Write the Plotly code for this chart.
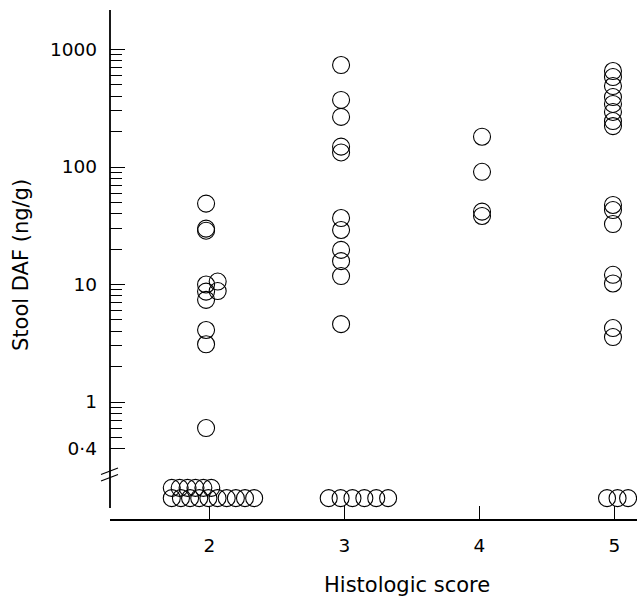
import plotly.graph_objects as go

# ---------------- data ----------------
SCORES = [2, 3, 4, 5]
X_TICK_LABELS = ["2", "3", "4", "5"]

DAF_SCORE2 = [48.8, 29.9, 28.7, 10.0, 8.7, 7.4, 10.6, 8.8, 4.1, 3.1, 0.6]
DAF_SCORE3 = [738, 372, 267, 149, 133, 36.8, 29.1, 19.7, 15.8, 11.8, 4.6]
DAF_SCORE4 = [181, 91, 41.7, 38.3]
DAF_SCORE5 = [656, 583, 489, 394, 344, 294, 246, 223,
              47.5, 43.0, 32.7, 12.1, 10.2, 4.26, 3.57]

# undetectable samples (plotted below the axis break), two rows
UNDETECTABLE_TOP_ROW = [6, 0, 0, 0]
UNDETECTABLE_BOTTOM_ROW = [10, 6, 0, 3]

Y_TICK_VALUES = [0.4, 1, 10, 100, 1000]
Y_TICK_LABELS = ["0\u00b74", "1", "10", "100", "1000"]
Y_MINOR_VALUES = [0.5, 0.6, 0.7, 0.8, 0.9] + \
    [m * d for d in (1, 10, 100) for m in range(2, 10)]

# ---------------- layout helpers (positions / styles) ----------------
W, H = 637, 597
ML, MT = 110, 10
PLOT_BOTTOM = 519
MB = H - PLOT_BOTTOM
PW = W - ML
PH = PLOT_BOTTOM - MT

X_RANGE = [1.2644, 5.168]
Y_RANGE = [-0.9957, 3.3362]  # log10 units

ROW_TOP_VALUE = 0.186
ROW_BOTTOM_VALUE = 0.152

# x dodge of detected points (category units)
DODGE = {
    2: [-0.024, -0.024, -0.024, -0.024, -0.024, -0.024, 0.062, 0.062,
        -0.024, -0.024, -0.024],
    3: [-0.024] * len(DAF_SCORE3),
    4: [0.02] * len(DAF_SCORE4),
    5: [-0.01] * len(DAF_SCORE5),
}
# swarm (start offset, step) for undetectable rows
SWARM_TOP = {2: (-0.278, 0.0585), 3: (0, 0), 4: (0, 0), 5: (0, 0)}
SWARM_BOTTOM = {2: (-0.278, 0.0678), 3: (-0.1156, 0.088), 4: (0, 0),
                5: (-0.054, 0.078)}

FONT = "DejaVu Sans"
MARKER = dict(symbol="circle", size=17, color="rgba(0,0,0,0)",
              line=dict(color="black", width=1.1))

detected = {2: DAF_SCORE2, 3: DAF_SCORE3, 4: DAF_SCORE4, 5: DAF_SCORE5}

xs, ys = [], []
for s in SCORES:
    for v, d in zip(detected[s], DODGE[s]):
        xs.append(s + d)
        ys.append(v)

for i, s in enumerate(SCORES):
    st, step = SWARM_TOP[s]
    for k in range(UNDETECTABLE_TOP_ROW[i]):
        xs.append(s + st + step * k)
        ys.append(ROW_TOP_VALUE)
    st, step = SWARM_BOTTOM[s]
    for k in range(UNDETECTABLE_BOTTOM_ROW[i]):
        xs.append(s + st + step * k)
        ys.append(ROW_BOTTOM_VALUE)

fig = go.Figure(go.Scatter(x=xs, y=ys, mode="markers", marker=MARKER,
                           hoverinfo="x+y", cliponaxis=True))


def px_x(p):
    return (p - ML) / PW


def px_y(p):
    return (PLOT_BOTTOM - p) / PH


shapes = [
    # y axis line (stops short of the x axis)
    dict(type="line", xref="paper", yref="paper", x0=0, x1=0,
         y0=px_y(508), y1=1, line=dict(color="black", width=1.8)),
    # axis break marks
    dict(type="line", xref="paper", yref="paper", x0=px_x(101), x1=px_x(118),
         y0=px_y(474.5), y1=px_y(468), line=dict(color="black", width=1.2)),
    dict(type="line", xref="paper", yref="paper", x0=px_x(101), x1=px_x(118),
         y0=px_y(481), y1=px_y(474.5), line=dict(color="black", width=1.2)),
]

annotations = [
    dict(text="Stool DAF (ng/g)", xref="paper", yref="paper",
         x=px_x(21), y=px_y(265), textangle=-90, showarrow=False,
         xanchor="center", yanchor="middle",
         font=dict(family=FONT, size=21, color="black")),
    dict(text="Histologic score", xref="paper", yref="paper",
         x=px_x(407), y=px_y(585), showarrow=False,
         xanchor="center", yanchor="middle",
         font=dict(family=FONT, size=21, color="black")),
]

fig.update_layout(
    width=W, height=H,
    margin=dict(l=ML, r=0, t=MT, b=MB, pad=0),
    paper_bgcolor="white", plot_bgcolor="white",
    showlegend=False,
    shapes=shapes, annotations=annotations,
    xaxis=dict(
        range=X_RANGE, tickmode="array", tickvals=SCORES,
        ticktext=X_TICK_LABELS, ticks="inside", ticklen=13, tickwidth=1.3,
        tickcolor="black", showline=True, linecolor="black", linewidth=1.8,
        showgrid=False, zeroline=False, ticklabelstandoff=9,
        tickfont=dict(family=FONT, size=18.5, color="black"),
    ),
    yaxis=dict(
        type="log", range=Y_RANGE, tickmode="array", tickvals=Y_TICK_VALUES,
        ticktext=Y_TICK_LABELS, ticks="inside", ticklen=15, tickwidth=1.3,
        tickcolor="black", showline=False, showgrid=False, zeroline=False,
        ticklabelstandoff=12,
        tickfont=dict(family=FONT, size=18.5, color="black"),
        minor=dict(tickmode="array", tickvals=Y_MINOR_VALUES, ticks="inside",
                   ticklen=12, tickwidth=1.1, tickcolor="black",
                   showgrid=False),
    ),
)

fig.write_html("out.html",
               config={"displayModeBar": False},
               post_script="document.body.style.margin='0';"
                           "document.body.style.overflow='hidden';")
